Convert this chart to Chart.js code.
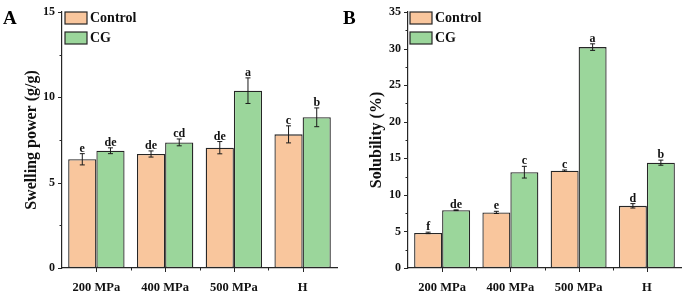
<!DOCTYPE html>
<html>
<head>
<meta charset="utf-8">
<script src="https://cdn.jsdelivr.net/npm/chart.js@4"></script>
<style>
  body { margin: 0; background: #fff; }
  #wrap { position: relative; width: 683px; height: 294px; }
  canvas { position: absolute; top: 0; }
</style>
</head>
<body>
<div id="wrap">
  <canvas id="chartA" width="340" height="294" style="left:0"></canvas>
  <canvas id="chartB" width="343" height="294" style="left:340px"></canvas>
</div>
<script>
// data
const categories = ['200 MPa', '400 MPa', '500 MPa', 'H'];
const seriesNames = ['Control', 'CG'];

const swellControl = [6.37, 6.68, 7.05, 7.83];
const swellCG = [6.87, 7.36, 10.39, 8.83];
const swellControlErr = [0.33, 0.18, 0.36, 0.5];
const swellCGErr = [0.17, 0.2, 0.75, 0.55];
const swellControlLetters = ['e', 'de', 'de', 'c'];
const swellCGLetters = ['de', 'cd', 'a', 'b'];

const solControl = [4.8, 7.6, 13.3, 8.5];
const solCG = [7.9, 13.1, 30.2, 14.4];
const solControlErr = [0.1, 0.15, 0.1, 0.3];
const solCGErr = [0.05, 0.8, 0.45, 0.35];
const solControlLetters = ['f', 'e', 'c', 'd'];
const solCGLetters = ['de', 'c', 'a', 'b'];

const FONT = "'Liberation Serif', 'Times New Roman', serif";
const ORANGE = '#f9c69d';
const GREEN = '#9bd69b';
const INK = '#262626';

// error bars, letters, minor ticks, legend, panel letter
const decorPlugin = {
  id: 'decor',
  afterDatasetsDraw(chart, args, opts) {
    const ctx = chart.ctx;
    const ys = chart.scales.y;
    const xs = chart.scales.x;
    const area = chart.chartArea;
    ctx.save();

    // error bars + significance letters
    chart.data.datasets.forEach((ds, di) => {
      const meta = chart.getDatasetMeta(di);
      meta.data.forEach((bar, i) => {
        const v = ds.data[i];
        const e = ds.err[i];
        const yTop = ys.getPixelForValue(v + e);
        const yBot = ys.getPixelForValue(v - e);
        ctx.strokeStyle = '#1a1a1a';
        ctx.lineWidth = 1;
        ctx.beginPath();
        ctx.moveTo(bar.x, yTop); ctx.lineTo(bar.x, yBot);
        ctx.moveTo(bar.x - 2.5, yTop); ctx.lineTo(bar.x + 2.5, yTop);
        ctx.moveTo(bar.x - 2.5, yBot); ctx.lineTo(bar.x + 2.5, yBot);
        ctx.stroke();
        ctx.fillStyle = '#111';
        ctx.font = 'bold 12px ' + FONT;
        ctx.textAlign = 'center';
        ctx.textBaseline = 'alphabetic';
        ctx.fillText(ds.letters[i], bar.x, yTop - 2);
      });
    });

    // y ticks (major every 5, minor in between)
    ctx.strokeStyle = INK;
    ctx.lineWidth = 1;
    for (let v = 0; v <= ys.max + 0.01; v += opts.yStep / 2) {
      const py = Math.round(ys.getPixelForValue(v)) + 0.5;
      const major = Math.abs(v / opts.yStep - Math.round(v / opts.yStep)) < 0.01;
      ctx.beginPath();
      ctx.moveTo(area.left, py);
      ctx.lineTo(area.left - (major ? 4 : 2.5), py);
      ctx.stroke();
    }
    // x ticks: centres (major) and boundaries (minor)
    categories.forEach((c, i) => {
      const px = Math.round(xs.getPixelForValue(i)) + 0.5;
      ctx.beginPath();
      ctx.moveTo(px, area.bottom); ctx.lineTo(px, area.bottom + 4);
      ctx.stroke();
      if (i < categories.length - 1) {
        const bx = Math.round((xs.getPixelForValue(i) + xs.getPixelForValue(i + 1)) / 2) + 0.5;
        ctx.beginPath();
        ctx.moveTo(bx, area.bottom); ctx.lineTo(bx, area.bottom + 2.5);
        ctx.stroke();
      }
    });

    // legend
    chart.data.datasets.forEach((ds, di) => {
      const bx = opts.legendX;
      const by = 12 + di * 20;
      ctx.fillStyle = ds.backgroundColor;
      ctx.fillRect(bx, by, 22, 12);
      ctx.strokeStyle = INK;
      ctx.lineWidth = 1.2;
      ctx.strokeRect(bx, by, 22, 12);
      ctx.fillStyle = '#111';
      ctx.font = 'bold 14px ' + FONT;
      ctx.textAlign = 'left';
      ctx.textBaseline = 'middle';
      ctx.fillText(ds.label, bx + 25, by + 6.5);
    });

    // panel letter
    ctx.fillStyle = '#000';
    ctx.font = 'bold 19px ' + FONT;
    ctx.textAlign = 'left';
    ctx.textBaseline = 'middle';
    ctx.fillText(opts.panel, 3, 19);
    ctx.restore();
  }
};

function makeChart(id, cfg) {
  const ctx = document.getElementById(id).getContext('2d');
  return new Chart(ctx, {
    type: 'bar',
    data: {
      labels: categories,
      datasets: [
        { label: seriesNames[0], data: cfg.control, err: cfg.controlErr, letters: cfg.controlLetters,
          backgroundColor: ORANGE, borderColor: INK, borderWidth: 1.3, borderSkipped: false },
        { label: seriesNames[1], data: cfg.cg, err: cfg.cgErr, letters: cfg.cgLetters,
          backgroundColor: GREEN, borderColor: INK, borderWidth: 1.3, borderSkipped: false }
      ]
    },
    options: {
      responsive: false,
      animation: false,
      devicePixelRatio: 1,
      layout: { padding: { left: 0, right: cfg.padRight, top: 12, bottom: 0 } },
      datasets: { bar: { barPercentage: 1.0, categoryPercentage: 0.82 } },
      plugins: {
        legend: { display: false },
        tooltip: { enabled: false },
        decor: { panel: cfg.panel, legendX: cfg.legendX, yStep: 5 }
      },
      scales: {
        x: {
          grid: { display: false, drawTicks: false },
          border: { display: true, color: INK, width: 1.2 },
          ticks: { color: '#111', font: { family: FONT, size: 12.5, weight: 'bold' }, padding: 12, maxRotation: 0 },
          afterFit(s) { s.height = 26; s.paddingLeft = 0; s.paddingRight = 0; }
        },
        y: {
          min: 0, max: cfg.yMax,
          grid: { display: false, drawTicks: false },
          border: { display: true, color: INK, width: 1.2 },
          ticks: { stepSize: 5, color: '#111', font: { family: FONT, size: 12, weight: 'bold' }, padding: 7 },
          title: { display: true, text: cfg.yTitle, color: '#111',
                   font: { family: FONT, size: 16, weight: 'bold' }, padding: { top: cfg.titlePad, bottom: 0 } },
          afterFit(s) { s.width = cfg.axisLeft; s.paddingTop = 0; s.paddingBottom = 0; }
        }
      }
    },
    plugins: [decorPlugin]
  });
}

makeChart('chartA', {
  panel: 'A', control: swellControl, cg: swellCG,
  controlErr: swellControlErr, cgErr: swellCGErr,
  controlLetters: swellControlLetters, cgLetters: swellCGLetters,
  yMax: 15, yTitle: 'Swelling power (g/g)', axisLeft: 62, padRight: 3, legendX: 65, titlePad: 22
});

makeChart('chartB', {
  panel: 'B', control: solControl, cg: solCG,
  controlErr: solControlErr, cgErr: solCGErr,
  controlLetters: solControlLetters, cgLetters: solCGLetters,
  yMax: 35, yTitle: 'Solubility (%)', axisLeft: 68, padRight: 2, legendX: 70, titlePad: 27
});
</script>
</body>
</html>
